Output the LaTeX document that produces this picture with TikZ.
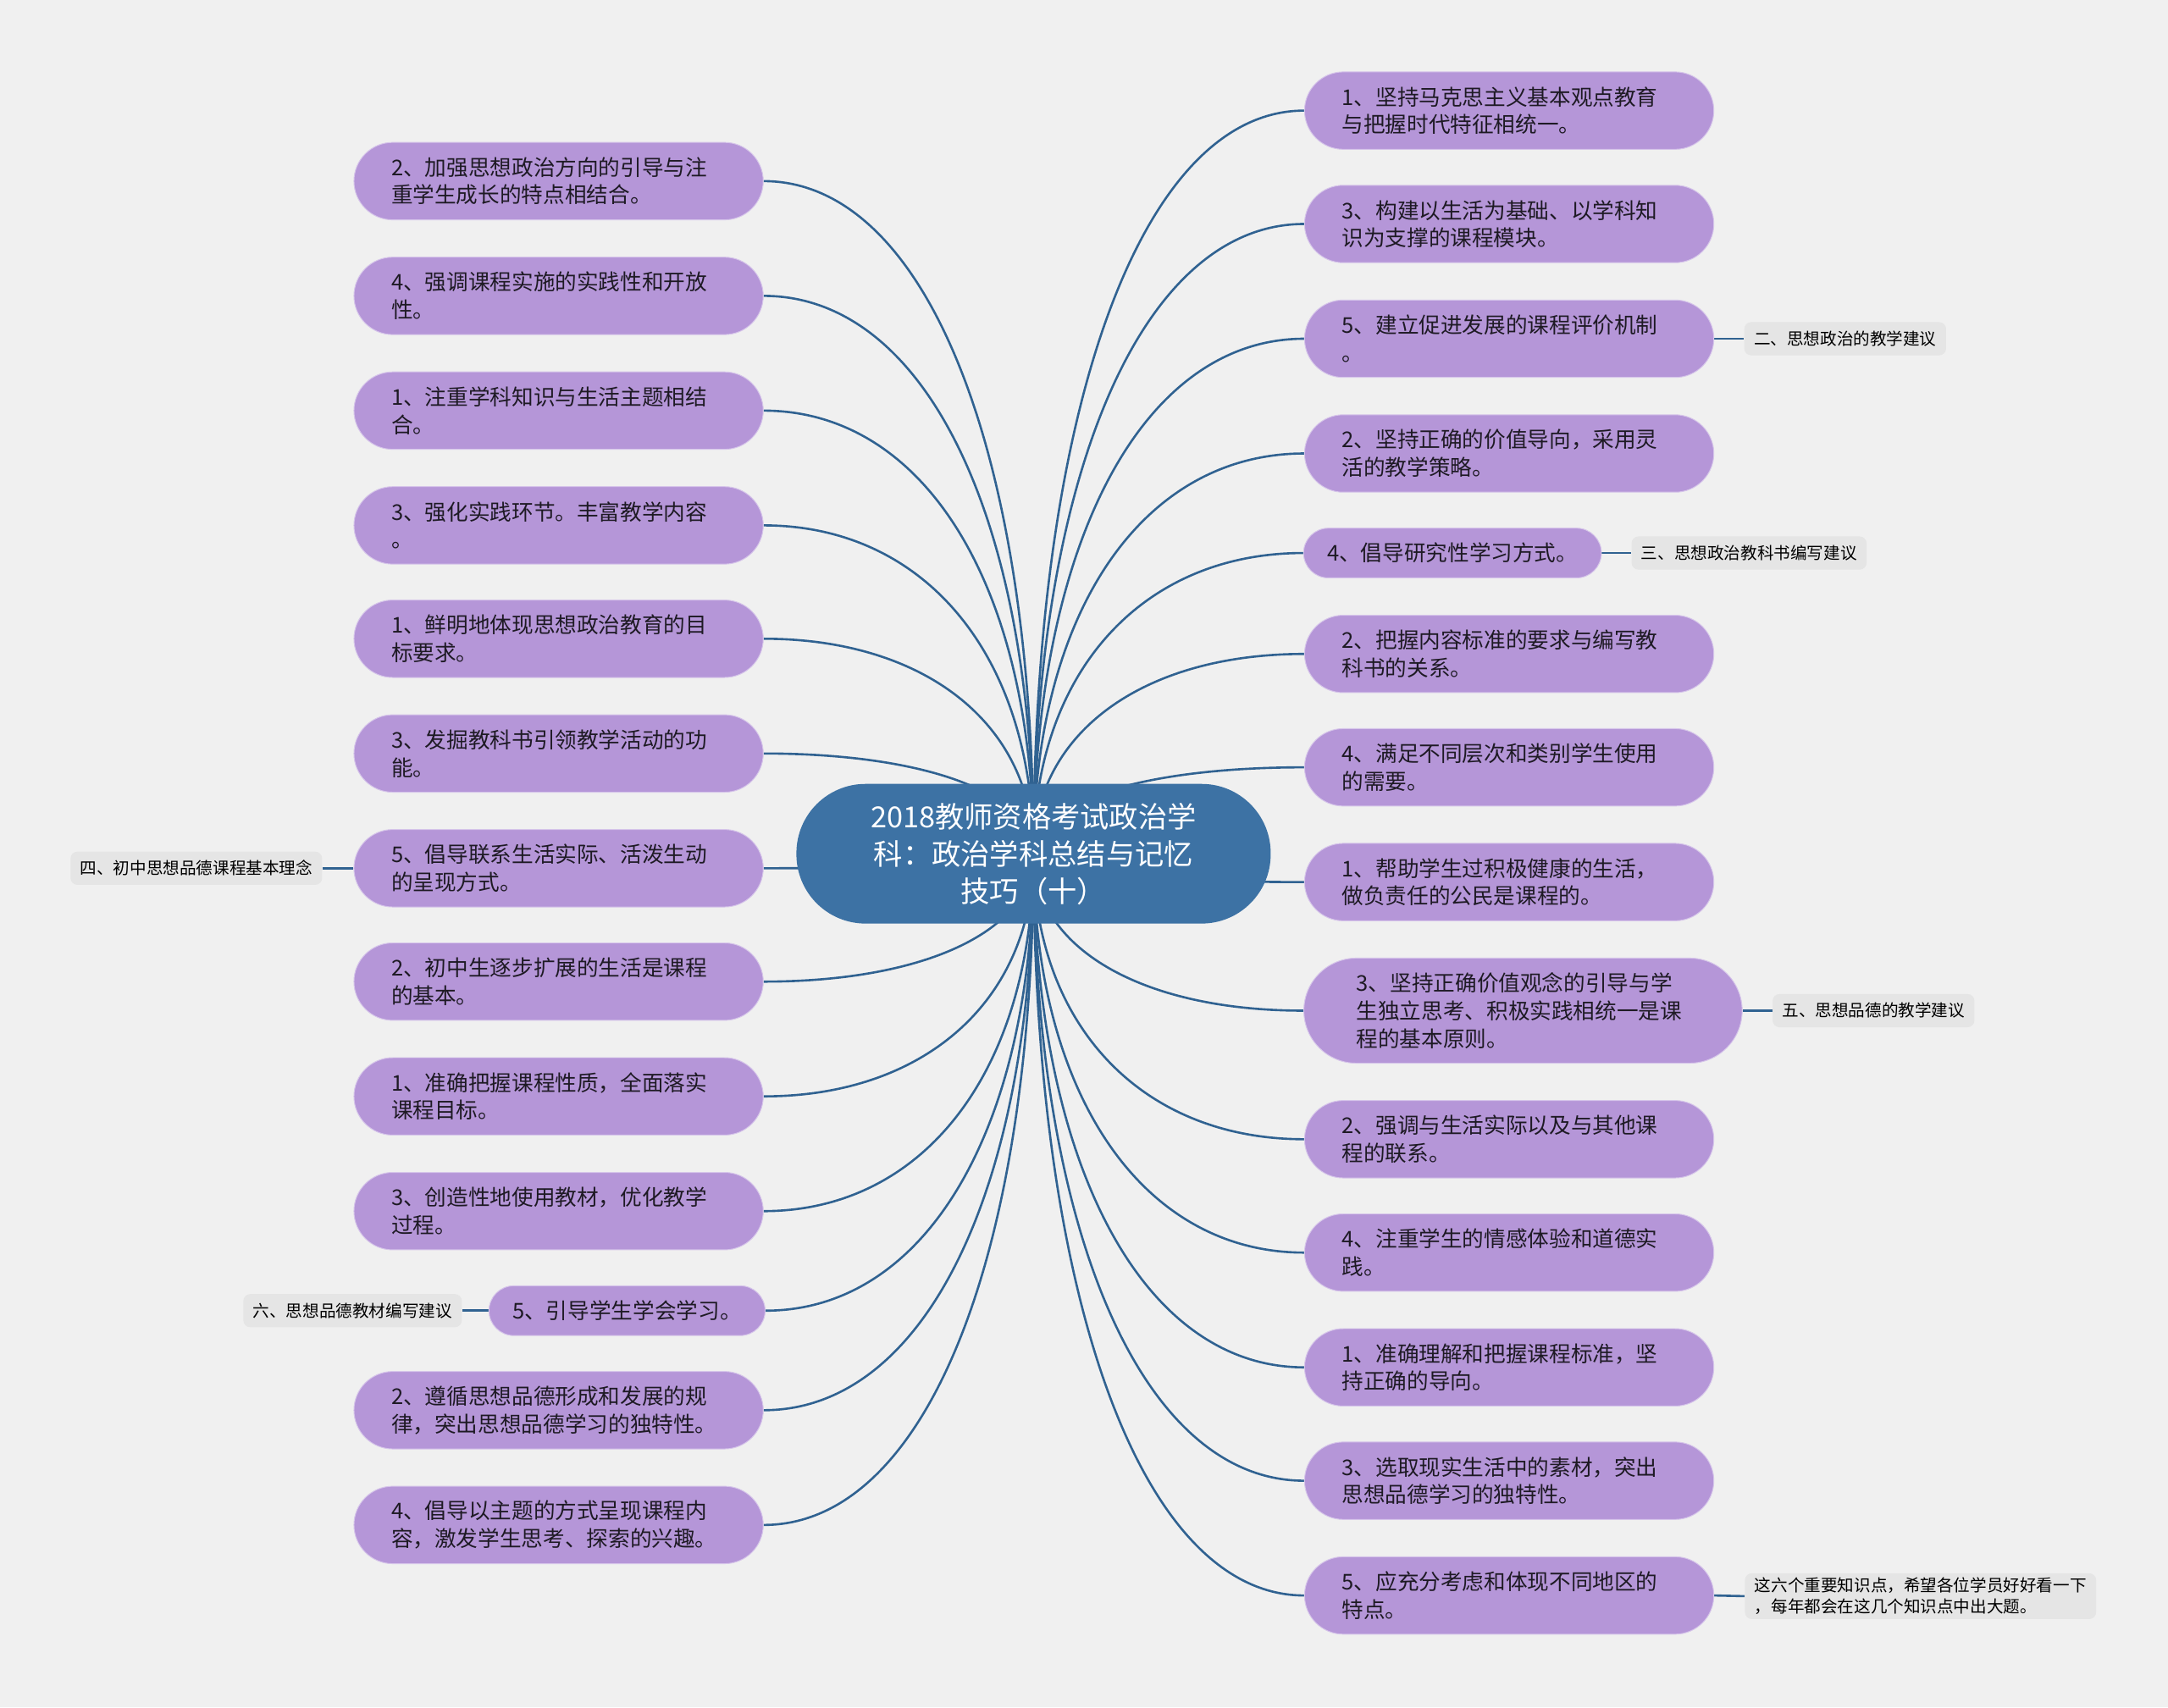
\documentclass[tikz,border=0pt]{standalone}
\usepackage{fontspec}
\setmainfont{Noto Sans CJK SC}
\usetikzlibrary{calc,backgrounds}
\definecolor{bgc}{RGB}{240,240,240}
\definecolor{leafc}{RGB}{181,150,216}
\definecolor{rootc}{RGB}{61,114,164}
\definecolor{linkc}{RGB}{48,98,145}
\definecolor{tagc}{RGB}{229,229,229}
\definecolor{inkc}{RGB}{30,26,36}
\tikzset{
  root/.style={fill=rootc, text=white, rounded corners=50pt, minimum width=343pt,
    minimum height=101pt, align=center, font=\fontsize{21}{27}\selectfont},
  pill/.style={fill=leafc, draw=leafc!55!white, line width=0.6pt, text=inkc,
    font=\fontsize{15.7}{20}\selectfont},
  leaf/.style={pill, rounded corners=28pt, minimum height=56pt, inner xsep=27pt,
    text width=242pt, align=left},
  tallleaf/.style={pill, rounded corners=38pt, minimum height=76pt, inner xsep=38pt,
    text width=241pt, align=left},
  shortleaf/.style={pill, rounded corners=18pt, minimum height=36pt, inner xsep=17pt},
  tag/.style={fill=tagc, text=black, rounded corners=5pt, minimum height=24pt,
    inner xsep=7pt, font=\fontsize{12}{15}\selectfont},
  link/.style={draw=linkc, line width=1.6pt},
}
\newcommand{\branch}[2]{%
  \draw[link] let \p1=(ctr.center), \p2=(#1.#2) in
    (\p1) .. controls (\x1,{0.4*\y1+0.6*\y2}) and ({0.6*\x1+0.4*\x2},\y2) .. (\p2);
}

\begin{document}
\begin{tikzpicture}[x=1pt, y=1pt]
    \useasboundingbox (0,0) rectangle (1568,-1235);

    % root
    \node[root] (ctr) at (747.5,-617.5) {2018教师资格考试政治学\\科：政治学科总结与记忆\\技巧（十）};

    % left branches
    \node[leaf] (L1) at (404,-131) {2、加强思想政治方向的引导与注\\重学生成长的特点相结合。};
    \node[leaf] (L2) at (404,-214) {4、强调课程实施的实践性和开放\\性。};
    \node[leaf] (L3) at (404,-297) {1、注重学科知识与生活主题相结\\合。};
    \node[leaf] (L4) at (404,-380) {3、强化实践环节。丰富教学内容\\。};
    \node[leaf] (L5) at (404,-462) {1、鲜明地体现思想政治教育的目\\标要求。};
    \node[leaf] (L6) at (404,-545) {3、发掘教科书引领教学活动的功\\能。};
    \node[leaf] (L7) at (404,-628) {5、倡导联系生活实际、活泼生动\\的呈现方式。};
    \node[leaf] (L8) at (404,-710) {2、初中生逐步扩展的生活是课程\\的基本。};
    \node[leaf] (L9) at (404,-793) {1、准确把握课程性质，全面落实\\课程目标。};
    \node[leaf] (L10) at (404,-876) {3、创造性地使用教材，优化教学\\过程。};
    \node[shortleaf] (L11) at (453.5,-948) {5、引导学生学会学习。};
    \node[leaf] (L12) at (404,-1020) {2、遵循思想品德形成和发展的规\\律，突出思想品德学习的独特性。};
    \node[leaf] (L13) at (404,-1103) {4、倡导以主题的方式呈现课程内\\容，激发学生思考、探索的兴趣。};

    % right branches
    \node[leaf] (R1) at (1091.5,-80) {1、坚持马克思主义基本观点教育\\与把握时代特征相统一。};
    \node[leaf] (R2) at (1091.5,-162) {3、构建以生活为基础、以学科知\\识为支撑的课程模块。};
    \node[leaf] (R3) at (1091.5,-245) {5、建立促进发展的课程评价机制\\。};
    \node[leaf] (R4) at (1091.5,-328) {2、坚持正确的价值导向，采用灵\\活的教学策略。};
    \node[shortleaf] (R5) at (1050.5,-400) {4、倡导研究性学习方式。};
    \node[leaf] (R6) at (1091.5,-473) {2、把握内容标准的要求与编写教\\科书的关系。};
    \node[leaf] (R7) at (1091.5,-555) {4、满足不同层次和类别学生使用\\的需要。};
    \node[leaf] (R8) at (1091.5,-638) {1、帮助学生过积极健康的生活，\\做负责任的公民是课程的。};
    \node[tallleaf] (R9) at (1101.5,-731) {3、坚持正确价值观念的引导与学\\生独立思考、积极实践相统一是课\\程的基本原则。};
    \node[leaf] (R10) at (1091.5,-824) {2、强调与生活实际以及与其他课\\程的联系。};
    \node[leaf] (R11) at (1091.5,-906) {4、注重学生的情感体验和道德实\\践。};
    \node[leaf] (R12) at (1091.5,-989) {1、准确理解和把握课程标准，坚\\持正确的导向。};
    \node[leaf] (R13) at (1091.5,-1071) {3、选取现实生活中的素材，突出\\思想品德学习的独特性。};
    \node[leaf] (R14) at (1091.5,-1154) {5、应充分考虑和体现不同地区的\\特点。};

    % section tags
    \node[tag] (t2) at (1334.5,-245) {二、思想政治的教学建议};
    \node[tag] (t3) at (1265,-400) {三、思想政治教科书编写建议};
    \node[tag] (t4) at (142,-628) {四、初中思想品德课程基本理念};
    \node[tag] (t5) at (1355,-731) {五、思想品德的教学建议};
    \node[tag] (t6) at (255,-948) {六、思想品德教材编写建议};
    \node[tag, align=left] (t7) at (1389,-1154.5) {这六个重要知识点，希望各位学员好好看一下\\，每年都会在这几个知识点中出大题。};

    \begin{scope}[on background layer]
      \fill[bgc] (0,0) rectangle (1568,-1235);
      \foreach \b in {L1,L2,L3,L4,L5,L6,L7,L8,L9,L10,L11,L12,L13} {\branch{\b}{east}}
      \foreach \b in {R1,R2,R3,R4,R5,R6,R7,R8,R9,R10,R11,R12,R13,R14} {\branch{\b}{west}}
      \draw[link] (R3.east) -- (t2.west);
      \draw[link] (R5.east) -- (t3.west);
      \draw[link] (L7.west) -- (t4.east);
      \draw[link] (R9.east) -- (t5.west);
      \draw[link] (L11.west) -- (t6.east);
      \draw[link] (R14.east) -- (t7.west);
    \end{scope}
\end{tikzpicture}
\end{document}
